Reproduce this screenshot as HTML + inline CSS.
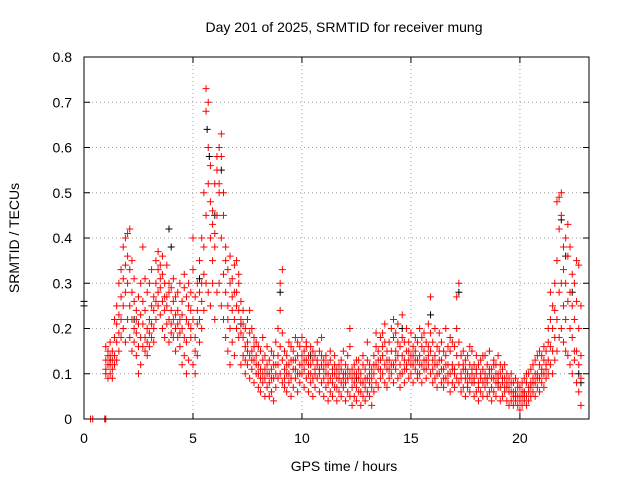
<!DOCTYPE html>
<html><head><meta charset="utf-8"><style>
body{margin:0;background:#fff}
svg{display:block;font-family:"Liberation Sans",sans-serif}
</style></head><body>
<svg id="chart" width="640" height="480" viewBox="0 0 640 480">
<rect x="0" y="0" width="640" height="480" fill="#fff"/>
<text x="344" y="32" font-size="14" text-anchor="middle">Day 201 of 2025, SRMTID for receiver mung</text>
<g id="grid"></g>
<g id="ticks"></g>
<g id="blackPts"></g>
<g id="redPts"></g>
<rect x="84" y="57" width="505" height="362" fill="none" stroke="#000" stroke-width="1"/>
<text x="344" y="471" font-size="14" text-anchor="middle">GPS time / hours</text>
<text x="19" y="238" font-size="14" text-anchor="middle" transform="rotate(-90 19 238)">SRMTID / TECUs</text>
</svg>
<script>
const xTicks=[0,5,10,15,20];
const yTicks=[0,0.1,0.2,0.3,0.4,0.5,0.6,0.7,0.8];
const yTickLabels=["0","0.1","0.2","0.3","0.4","0.5","0.6","0.7","0.8"];
const redZeroT=[0.3,0.4,0.95,0.97,1.0];
const redGroups=[
[1.0,.10,.13,.16,.11],[1.1,.09,.12,.15,.14],[1.2,.10,.14,.17,.12],[1.3,.11,.15,.13,.09],[1.4,.12,.18,.22,.14],
[1.5,.13,.21,.25,.17],[1.6,.15,.23,.30,.19],[1.7,.18,.27,.33,.22],[1.8,.20,.31,.38,.25],[1.9,.17,.28,.40,.34],
[2.0,.22,.30,.36,.41],[2.1,.18,.25,.42,.33],[2.2,.15,.22,.35,.28],[2.3,.17,.20,.26,.31],[2.4,.14,.19,.24,.22],
[2.5,.10,.16,.21,.27],[2.6,.12,.18,.23,.30],[2.7,.16,.26,.38,.21],[2.8,.18,.24,.31,.15],[2.9,.14,.20,.28,.17],
[3.0,.16,.22,.30,.19],[3.1,.18,.25,.33,.21],[3.2,.20,.27,.24,.17],[3.3,.22,.30,.35,.26],[3.4,.25,.33,.37,.28],
[3.5,.23,.29,.34,.31],[3.6,.20,.26,.32,.36],[3.7,.18,.24,.30,.27],[3.8,.21,.27,.34,.25],[3.9,.17,.22,.28,.30],
[4.0,.19,.24,.29,.21],[4.1,.22,.26,.31,.18],[4.2,.15,.20,.27,.23],[4.3,.18,.24,.28,.21],[4.4,.16,.22,.30,.19],
[4.5,.12,.20,.26,.23],[4.6,.14,.18,.29,.32],[4.7,.10,.17,.22,.27],[4.8,.13,.21,.25,.30],[4.9,.18,.24,.28,.20],
[5.0,.12,.22,.33,.40],[5.1,.10,.18,.27,.15],[5.2,.14,.24,.30,.21],[5.3,.17,.28,.35,.22],[5.4,.20,.30,.40,.26],
[5.5,.24,.38,.50,.32],[5.6,.30,.45,.68,.73],[5.7,.28,.52,.70,.60],[5.8,.25,.40,.56,.48],[5.9,.30,.35,.46,.43],
[6.0,.22,.38,.52,.41],[6.1,.28,.45,.55,.58],[6.2,.30,.50,.60,.52],[6.3,.25,.40,.63,.58],[6.4,.22,.32,.50,.45],
[6.5,.18,.28,.38,.35],[6.6,.15,.25,.33,.22],[6.7,.20,.30,.36,.12],[6.8,.17,.27,.31,.24],[6.9,.14,.22,.34,.28],
[7.0,.20,.28,.35,.25],[7.1,.18,.24,.32,.30],[7.2,.12,.19,.26,.22],[7.3,.14,.18,.24,.21],[7.4,.10,.16,.20,.13],
[7.5,.12,.17,.22,.15],[7.6,.09,.14,.19,.24],[7.7,.11,.15,.20,.13],[7.8,.08,.13,.18,.16],[7.9,.10,.14,.17,.12],
[8.0,.07,.12,.16,.10],[8.1,.06,.11,.15,.09],[8.2,.08,.13,.18,.10],[8.3,.05,.09,.14,.11],[8.4,.07,.10,.16,.12],
[8.5,.05,.08,.13,.10],[8.6,.06,.11,.15,.09],[8.7,.04,.09,.12,.14],[8.8,.07,.12,.17,.10],[8.9,.09,.14,.20,.12],
[9.0,.10,.16,.24,.30],[9.1,.08,.13,.19,.33],[9.2,.07,.11,.15,.09],[9.3,.06,.10,.14,.12],[9.4,.08,.12,.17,.10],
[9.5,.05,.09,.13,.16],[9.6,.07,.11,.15,.13],[9.7,.09,.13,.18,.11],[9.8,.06,.10,.14,.17],[9.9,.08,.12,.16,.10],
[10.0,.10,.14,.18,.12],[10.1,.07,.11,.15,.13],[10.2,.09,.13,.17,.16],[10.3,.06,.10,.14,.12],[10.4,.08,.12,.16,.10],
[10.5,.05,.09,.13,.15],[10.6,.07,.11,.14,.10],[10.7,.09,.13,.17,.12],[10.8,.06,.10,.15,.11],[10.9,.08,.12,.18,.14],
[11.0,.05,.09,.13,.11],[11.1,.07,.10,.14,.12],[11.2,.04,.08,.12,.10],[11.3,.06,.09,.13,.15],[11.4,.05,.08,.11,.10],
[11.5,.07,.10,.14,.12],[11.6,.04,.07,.11,.09],[11.7,.06,.09,.12,.10],[11.8,.05,.08,.13,.11],[11.9,.07,.10,.15,.09],
[12.0,.04,.08,.12,.10],[12.1,.06,.09,.14,.11],[12.2,.05,.10,.16,.20],[12.3,.03,.07,.11,.09],[12.4,.05,.08,.12,.10],
[12.5,.04,.07,.10,.13],[12.6,.06,.09,.13,.11],[12.7,.03,.06,.10,.08],[12.8,.05,.08,.12,.14],[12.9,.04,.07,.11,.09],
[13.0,.06,.09,.13,.17],[13.1,.05,.08,.12,.10],[13.2,.03,.07,.11,.09],[13.3,.06,.10,.14,.12],[13.4,.08,.12,.16,.19],
[13.5,.07,.11,.15,.13],[13.6,.09,.13,.18,.11],[13.7,.10,.14,.19,.16],[13.8,.08,.12,.17,.21],[13.9,.07,.11,.15,.13],
[14.0,.09,.13,.17,.11],[14.1,.10,.15,.20,.12],[14.2,.08,.12,.18,.22],[14.3,.11,.15,.19,.13],[14.4,.09,.14,.21,.17],
[14.5,.07,.12,.16,.10],[14.6,.10,.14,.18,.23],[14.7,.08,.13,.17,.11],[14.8,.11,.15,.20,.12],[14.9,.09,.13,.17,.15],
[15.0,.10,.14,.19,.12],[15.1,.08,.12,.16,.14],[15.2,.11,.15,.18,.13],[15.3,.09,.13,.17,.10],[15.4,.10,.14,.20,.12],
[15.5,.08,.12,.16,.18],[15.6,.11,.15,.19,.13],[15.7,.09,.13,.17,.11],[15.8,.12,.16,.21,.14],[15.9,.10,.15,.27,.19],
[16.0,.08,.13,.17,.11],[16.1,.09,.14,.20,.12],[16.2,.07,.12,.16,.10],[16.3,.10,.15,.19,.13],[16.4,.08,.13,.17,.11],
[16.5,.07,.11,.15,.09],[16.6,.09,.14,.20,.12],[16.7,.08,.12,.16,.10],[16.8,.06,.10,.15,.18],[16.9,.08,.12,.17,.11],
[17.0,.07,.11,.16,.10],[17.1,.09,.14,.20,.27],[17.2,.08,.12,.17,.30],[17.3,.06,.10,.14,.09],[17.4,.07,.11,.15,.12],
[17.5,.05,.09,.13,.11],[17.6,.07,.10,.14,.08],[17.7,.06,.09,.12,.16],[17.8,.08,.11,.15,.10],[17.9,.05,.08,.12,.09],
[18.0,.06,.10,.14,.11],[18.1,.04,.08,.12,.07],[18.2,.06,.09,.13,.10],[18.3,.05,.08,.11,.14],[18.4,.07,.10,.14,.09],
[18.5,.05,.09,.12,.08],[18.6,.06,.10,.15,.11],[18.7,.04,.07,.11,.09],[18.8,.06,.09,.13,.12],[18.9,.05,.08,.12,.10],
[19.0,.07,.10,.14,.09],[19.1,.04,.07,.10,.12],[19.2,.05,.08,.11,.09],[19.3,.06,.09,.12,.07],[19.4,.04,.07,.10,.08],
[19.5,.03,.06,.09,.07],[19.6,.04,.06,.08,.10],[19.7,.03,.05,.08,.06],[19.8,.04,.06,.09,.05],[19.9,.03,.05,.07,.08],
[20.0,.02,.04,.07,.05],[20.1,.03,.05,.08,.06],[20.2,.04,.06,.09,.05],[20.3,.03,.05,.08,.10],[20.4,.04,.07,.10,.06],
[20.5,.05,.08,.11,.07],[20.6,.06,.09,.12,.08],[20.7,.05,.08,.13,.10],[20.8,.07,.10,.14,.09],[20.9,.06,.09,.12,.15],
[21.0,.08,.11,.14,.10],[21.1,.07,.10,.13,.16],[21.2,.09,.12,.15,.11],[21.3,.10,.13,.17,.20],[21.4,.12,.16,.22,.28],
[21.5,.10,.15,.20,.25],[21.6,.13,.18,.24,.30],[21.7,.15,.22,.35,.48],[21.8,.18,.28,.42,.49],[21.9,.20,.30,.45,.50],
[22.0,.17,.25,.38,.33],[22.1,.15,.22,.30,.40],[22.2,.14,.26,.36,.43],[22.3,.12,.20,.28,.38],[22.4,.10,.18,.25,.32],
[22.5,.13,.22,.30,.15],[22.6,.08,.15,.26,.35],[22.7,.06,.12,.20,.34],[22.8,.03,.09,.14,.25]
];
const blackT=[0.0,0.0,1.2,2.3,3.9,4.0,5.3,5.65,5.75,6.0,6.3,7.2,9.0,10.4,12.5,14.6,15.9,17.2,19.0,20.2,21.9,22.1,22.4,22.7,22.8];
const blackV=[0.25,0.26,0.13,0.22,0.42,0.38,0.31,0.64,0.58,0.45,0.55,0.21,0.28,0.14,0.09,0.20,0.23,0.28,0.08,0.06,0.44,0.36,0.28,0.10,0.08];

const X0=84,X1=589,Y0=419,Y1=57,XMAX=23.17,YMAX=0.8;
const xs=t=>X0+(X1-X0)*t/XMAX;
const ys=v=>Y0-(Y0-Y1)*v/YMAX;
const NS="http://www.w3.org/2000/svg";
function mk(tag,attrs,parent){const e=document.createElementNS(NS,tag);for(const k in attrs)e.setAttribute(k,attrs[k]);parent.appendChild(e);return e;}
const grid=document.getElementById('grid'),ticks=document.getElementById('ticks');
xTicks.forEach(t=>{const x=xs(t);
 if(t>0){const l=mk('line',{x1:x,y1:Y1,x2:x,y2:Y0,stroke:'#a0a0a0','stroke-dasharray':'1,3'},grid);
 
 }
 const tk=mk('path',{d:`M${x},${Y0}v-6M${x},${Y1}v6`,stroke:'#000'},ticks);
 
 
 const tx=mk('text',{x:x,y:443,'font-size':14,'text-anchor':'middle'},ticks);tx.textContent=t;
 
 
});
yTicks.forEach((v,i)=>{const y=ys(v);
 if(v>0&&v<YMAX){const l=mk('line',{x1:X0,y1:y,x2:X1,y2:y,stroke:'#a0a0a0','stroke-dasharray':'1,3'},grid);
 
 }
 const tk=mk('path',{d:`M${X0},${y}h6M${X1},${y}h-6`,stroke:'#000'},ticks);
 
 
 const tx=mk('text',{x:72,y:y+5,'font-size':14,'text-anchor':'end'},ticks);tx.textContent=yTickLabels[i];
 
 
});
function plus(parent,t,v,color){const x=xs(t),y=ys(v);
 const p=mk('path',{d:`M${x-3.5},${y}h7M${x},${y-3.5}v7`,stroke:color,'stroke-width':1},parent);
 
 }
const bg=document.getElementById('blackPts'),rg=document.getElementById('redPts');
blackT.forEach((t,i)=>plus(bg,t,blackV[i],'#000'));
redZeroT.forEach(t=>plus(rg,t,0,'#ff0000'));
redGroups.forEach(g=>{for(let k=1;k<g.length;k++)plus(rg,g[0],g[k],'#ff0000');});
</script>
</body></html>
